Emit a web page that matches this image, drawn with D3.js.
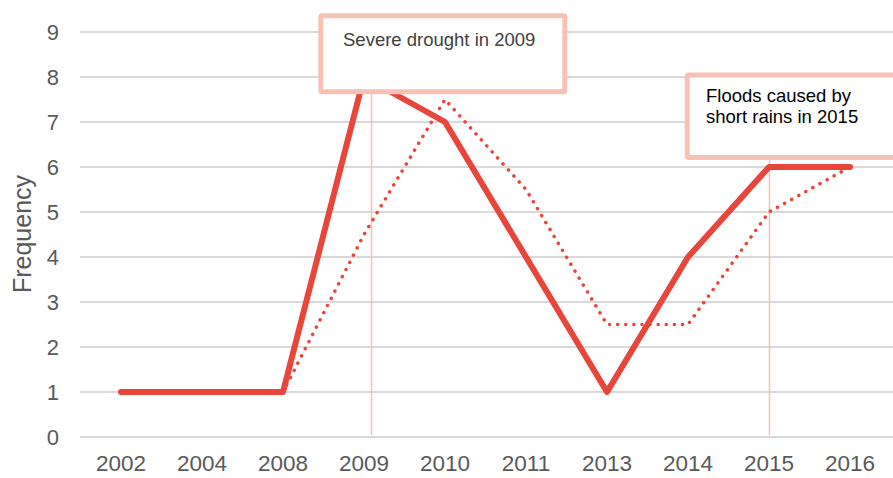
<!DOCTYPE html>
<html>
<head>
<meta charset="utf-8">
<script src="https://cdn.jsdelivr.net/npm/d3@7"></script>
<style>
  html, body { margin: 0; padding: 0; background: #fff; }
  svg { display: block; font-family: "Liberation Sans", Arial, sans-serif; }
</style>
</head>
<body>
<svg id="chart" width="893" height="478"></svg>
<script>
// Hazard years and how often events were recorded
const years = ["2002", "2004", "2008", "2009", "2010", "2011", "2013", "2014", "2015", "2016"];
const frequency = [1, 1, 1, 8, 7, 4, 1, 4, 6, 6];
// Two-period moving average of the frequency (trend line)
const movingAvg = [null, 1, 1, 4.5, 7.5, 5.5, 2.5, 2.5, 5, 6];
const yTicks = [0, 1, 2, 3, 4, 5, 6, 7, 8, 9];
const notes = [
  { year: "2009", lines: ["Severe drought in 2009"], color: "#404040" },
  { year: "2015", lines: ["Floods caused by", "short rains in 2015"], color: "#000000" }
];

const svg = d3.select("#chart");
const lineColor = "#E8453B";
const gridColor = "#D9D9D9";
const noteColor = "#F8C1B3";

const x = d3.scaleBand().domain(years).range([80.5, 890.5]);
const y = d3.scaleLinear().domain([0, 9]).range([437, 32]);
const cx = d => x(d) + x.bandwidth() / 2;

// Horizontal gridlines
svg.append("g")
  .selectAll("line")
  .data(yTicks)
  .join("line")
  .attr("x1", 80).attr("x2", 893)
  .attr("y1", d => y(d)).attr("y2", d => y(d))
  .attr("stroke", gridColor)
  .attr("stroke-width", 2);

// Y axis labels
const yAxis = svg.append("g")
  .attr("transform", "translate(59,0)")
  .call(d3.axisLeft(y).tickValues(yTicks).tickSize(0).tickPadding(0).tickFormat(d3.format("d")));
yAxis.select(".domain").remove();
yAxis.selectAll("text")
  .attr("fill", "#595959")
  .style("font-size", "22px")
  .style("font-family", "Liberation Sans, Arial, sans-serif");

// X axis labels
const xAxis = svg.append("g")
  .attr("transform", "translate(0,455)")
  .call(d3.axisBottom(x).tickSize(0).tickPadding(0));
xAxis.select(".domain").remove();
xAxis.selectAll("text")
  .attr("fill", "#595959")
  .attr("dy", "0.71em")
  .style("font-size", "22.5px")
  .style("font-family", "Liberation Sans, Arial, sans-serif");

// Y axis title
svg.append("text")
  .attr("transform", `translate(31,234) rotate(-90)`)
  .attr("text-anchor", "middle")
  .attr("fill", "#595959")
  .style("font-size", "25px")
  .text("Frequency");

// Leader lines from annotation boxes down to the axis
const boxes = {
  "2009": { x: 320.8, y: 15.8, w: 244, h: 76 },
  "2015": { x: 687.2, y: 75, w: 260, h: 82.5 }
};
const leaderX = { "2009": 371.5, "2015": 769.5 };
svg.append("g")
  .selectAll("line")
  .data(notes)
  .join("line")
  .attr("x1", d => leaderX[d.year]).attr("x2", d => leaderX[d.year])
  .attr("y1", d => boxes[d.year].y + boxes[d.year].h)
  .attr("y2", 435)
  .attr("stroke", noteColor)
  .attr("stroke-width", 1.5);

// Moving-average trend (dotted)
const lineGen = d3.line()
  .defined(d => d.v != null)
  .x(d => cx(d.year))
  .y(d => y(d.v));

svg.append("path")
  .datum(years.map((yr, i) => ({ year: yr, v: movingAvg[i] })))
  .attr("d", lineGen)
  .attr("fill", "none")
  .attr("stroke", lineColor)
  .attr("stroke-width", 3.5)
  .attr("stroke-linecap", "round")
  .attr("stroke-dasharray", "0.1 8");

// Frequency series (solid)
svg.append("path")
  .datum(years.map((yr, i) => ({ year: yr, v: frequency[i] })))
  .attr("d", lineGen)
  .attr("fill", "none")
  .attr("stroke", lineColor)
  .attr("stroke-width", 6)
  .attr("stroke-linecap", "round")
  .attr("stroke-linejoin", "round");

// Annotation boxes
const noteG = svg.append("g")
  .selectAll("g")
  .data(notes)
  .join("g");

noteG.append("rect")
  .attr("x", d => boxes[d.year].x)
  .attr("y", d => boxes[d.year].y)
  .attr("width", d => boxes[d.year].w)
  .attr("height", d => boxes[d.year].h)
  .attr("rx", 1.5)
  .attr("fill", "#fff")
  .attr("stroke", noteColor)
  .attr("stroke-width", 5);

const textPos = { "2009": { x: 343, y: 45.7 }, "2015": { x: 706, y: 101.7 } };
noteG.each(function (d) {
  const t = d3.select(this).append("text")
    .attr("fill", d.color)
    .style("font-size", "18.5px");
  d.lines.forEach((ln, i) => {
    t.append("tspan")
      .attr("x", textPos[d.year].x)
      .attr("y", textPos[d.year].y + i * 21.6)
      .text(ln);
  });
});
</script>
</body>
</html>
